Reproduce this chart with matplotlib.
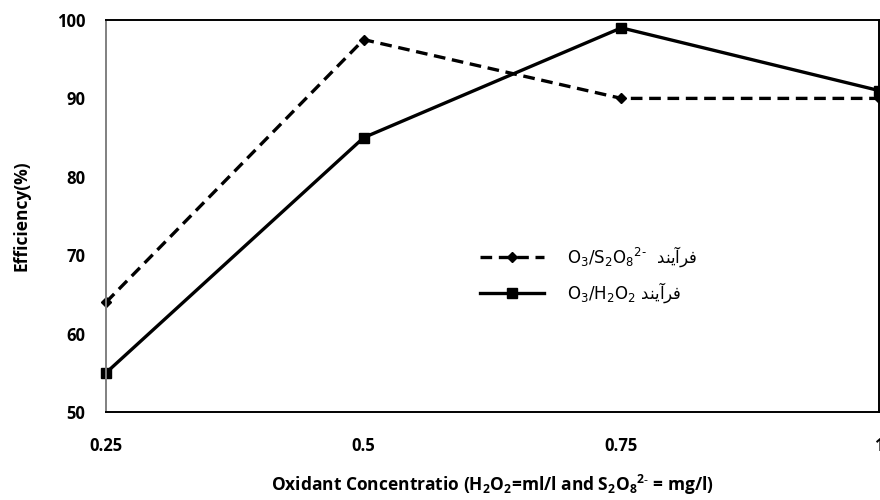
import matplotlib.pyplot as plt

plt.rcParams['mathtext.default'] = 'regular'

# oxidant concentration (x) and removal efficiency (%)
conc = [0.25, 0.5, 0.75, 1]
conc_labels = ['0.25', '0.5', '0.75', '1']
eff_persulfate = [64, 97.5, 90, 90]
eff_peroxide = [55, 85, 99, 91]
yticks = [50, 60, 70, 80, 90, 100]

# "فرآیند" written in shaped presentation forms, visual order
farayand = '\uFEAA\uFEE8\uFEF3\uFE81\uFEAE\uFED3'
label_s2o8 = '$O_3/S_2O_8$$^{2\u2010}$  ' + farayand
label_h2o2 = '$O_3/H_2O_2$ ' + farayand

fig = plt.figure(figsize=(8.8, 5), dpi=100)
ax = fig.add_axes([0.1205, 0.176, 0.8784, 0.784])

ax.plot(conc, eff_persulfate, color='black', lw=2.4, ls=(0, (3.5, 2)),
        marker='D', ms=5.5, clip_on=False, label=label_s2o8)
ax.plot(conc, eff_peroxide, color='black', lw=2.4, ls='-',
        marker='s', ms=7, clip_on=False, label=label_h2o2)

ax.set_xlim(0.25, 1)
ax.set_ylim(50, 100)
ax.set_xticks(conc)
ax.set_xticklabels(conc_labels)
ax.set_yticks(yticks)
ax.tick_params(length=0, labelsize=12)
ax.tick_params(axis='x', pad=18)
ax.tick_params(axis='y', pad=15)
for lab in ax.get_xticklabels() + ax.get_yticklabels():
    lab.set_fontweight('bold')
    lab.set_family('Open Sans')

for side in ['top', 'right', 'bottom']:
    ax.spines[side].set_color('black')
    ax.spines[side].set_linewidth(1.4)
ax.spines['left'].set_color('#808080')
ax.spines['left'].set_linewidth(1.4)

ax.set_ylabel('Efficiency(%)', fontsize=12.5, fontweight='bold', family='Open Sans', labelpad=19)
ax.set_xlabel('Oxidant Concentratio (H$_2$O$_2$=ml/l and S$_2$O$_8$$^{2\u2010}$ = mg/l)',
              fontsize=12.5, fontweight='bold', family='Open Sans', labelpad=13)

ax.legend(loc='center left', bbox_to_anchor=(0.465, 0.35), frameon=False,
          handlelength=3.8, handletextpad=1.4, labelspacing=0.65,
          prop={'family': 'DejaVu Sans', 'size': 12})

fig.savefig('out.png', dpi=100)
